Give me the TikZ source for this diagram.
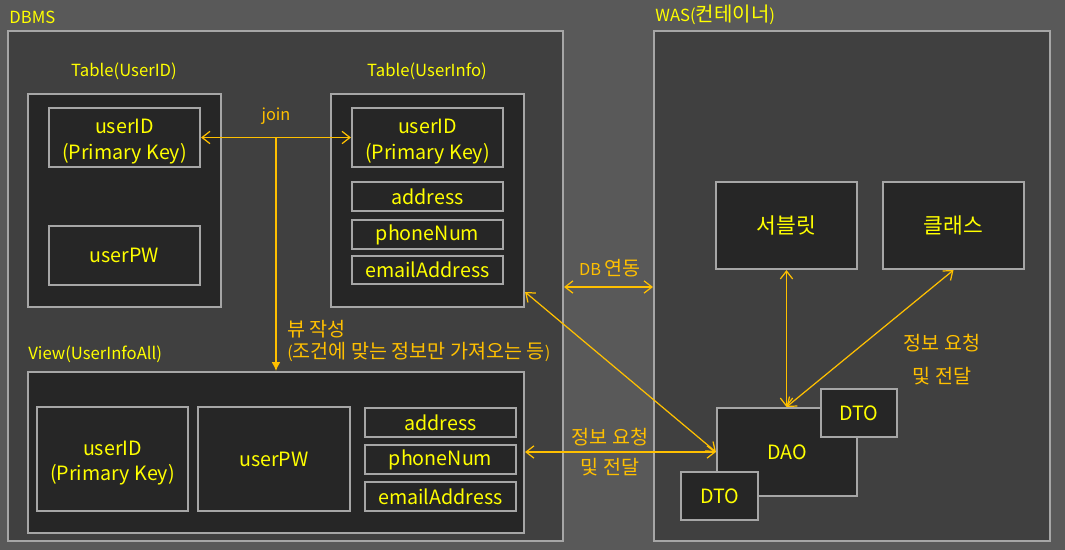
\documentclass[tikz,border=0pt]{standalone}
\usepackage{fontspec}
\setmainfont{Noto Sans CJK KR}
\newfontfamily\kr[Scale=1.2]{Noto Sans CJK KR}
\usetikzlibrary{arrows.meta,calc}
\definecolor{bgout}{HTML}{595959}
\definecolor{bgin}{HTML}{404040}
\definecolor{boxfill}{HTML}{262626}
\definecolor{bord}{HTML}{A6A6A6}
\definecolor{ytext}{HTML}{FFFF00}
\definecolor{otext}{HTML}{FFC000}
\tikzset{
  cont/.style={draw=bord, fill=bgin, line width=1.2pt, inner sep=0pt},
  box/.style={draw=bord, fill=boxfill, line width=1.2pt, inner sep=0pt, text=ytext, font=\fontsize{11.2pt}{14.6pt}\selectfont},
  lbl/.style={text=ytext, font=\fontsize{9.5pt}{11pt}\selectfont, inner sep=0pt},
  olbl/.style={text=otext, font=\fontsize{9.3pt}{13pt}\selectfont, inner sep=0pt},
  arr/.style={draw=otext, line width=0.7pt, arrows={Straight Barb[length=4.5pt,width=7pt]-Straight Barb[length=4.5pt,width=7pt]}},
  arrone/.style={draw=otext, line width=0.7pt, -{Latex[length=5pt,width=5pt]}},
}
\newcommand\bx[7][box]{\node[#1, minimum width={(#5-#3)*0.02cm}, minimum height={(#6-#4)*0.02cm}] (#2) at ({(#3+#5)/2},{(#4+#6)/2}) {#7};}
\newcommand\krb[1]{{\fontsize{10.2pt}{12pt}\kr #1}}
\newcommand\pk{\raisebox{-2.2pt}[\height][\depth]{\begin{tabular}{@{}c@{}}userID\\(Primary Key)\end{tabular}}}
\begin{document}
\begin{tikzpicture}[x=0.02cm,y=-0.02cm]
\fill[bgout] (0,0) rectangle (1065,550);
\useasboundingbox (0,0) rectangle (1065,550);
% containers
\bx[cont]{dbms}{8}{31}{563}{541}{}
\bx[cont]{was}{654}{31}{1050}{541}{}
\node[lbl, anchor=west] (dbmsl) at (9,17) {DBMS};
\node[lbl, anchor=west] (wasl) at (655,15) {WAS({\kr 컨테이너})};
% Table(UserID)
\node[lbl] (t1l) at (124,71) {Table(UserID)};
\bx{t1}{28}{94}{221}{307}{}
\bx{uid1}{49}{108}{200}{167}{\pk}
\bx{upw1}{49}{226}{200}{285}{userPW}
% Table(UserInfo)
\node[lbl] (t2l) at (427,71) {Table(UserInfo)};
\bx{t2}{331}{94}{524}{307}{}
\bx{uid2}{352}{108}{503}{167}{\pk}
\bx{addr2}{352}{182}{503}{211}{address}
\bx{phone2}{352}{220}{503}{249}{phoneNum}
\bx{mail2}{352}{256}{503}{284}{emailAddress}
% View
\node[lbl, anchor=west] (vl) at (28,354) {View(UserInfoAll)};
\bx{view}{28}{372}{524}{533}{}
\bx{uid3}{37}{407}{188}{511}{\pk}
\bx{upw3}{198}{407}{350}{511}{userPW}
\bx{addr3}{365}{408}{516}{437}{address}
\bx{phone3}{365}{445}{516}{474}{phoneNum}
\bx{mail3}{365}{482}{516}{511}{emailAddress}
% WAS
\bx{srv}{716}{182}{857}{269}{\krb{서블릿}}
\bx{cls}{883}{182}{1024}{269}{\krb{클래스}}
\bx{dao}{717}{408}{857}{496}{DAO}
\bx{dto1}{821}{389}{897}{437}{DTO}
\bx{dto2}{681}{472}{758}{520}{DTO}
% join
\node[olbl] (joinl) at (276,116) {join};
\draw[arr] (uid1.east) -- (uid2.west);
\coordinate (jm) at ($(uid1.east)!0.5!(uid2.west)$);
\draw[arrone] (jm) -- (jm |- view.north);
\node[olbl, anchor=west] (vw1) at (287,329) {\kr 뷰 작성};
\node[olbl, anchor=west] (vw2) at (287,352) {({\kr 조건에 맞는 정보만 가져오는 등})};
% DB link
\coordinate (dbl) at (564,287);
\draw[arr] (dbms.east |- dbl) -- (was.west |- dbl);
\node[olbl] (dbll) at (610,268) {DB {\kr 연동}};
% info request
\draw[arr] (t2.east |- 0,292) -- (dao.west);
\draw[arr] (view.east |- dao.west) -- (dao.west);
\node[olbl] (req1) at (610,437) {\kr 정보 요청};
\node[olbl] (req2) at (610,467) {\kr 및 전달};
% WAS arrows
\draw[arr] (srv.south) -- (srv.south |- dao.north);
\draw[arr] (cls.south) -- (srv.south |- dao.north);
\node[olbl] (req3) at (942,343) {\kr 정보 요청};
\node[olbl] (req4) at (942,376) {\kr 및 전달};
\end{tikzpicture}
\end{document}
